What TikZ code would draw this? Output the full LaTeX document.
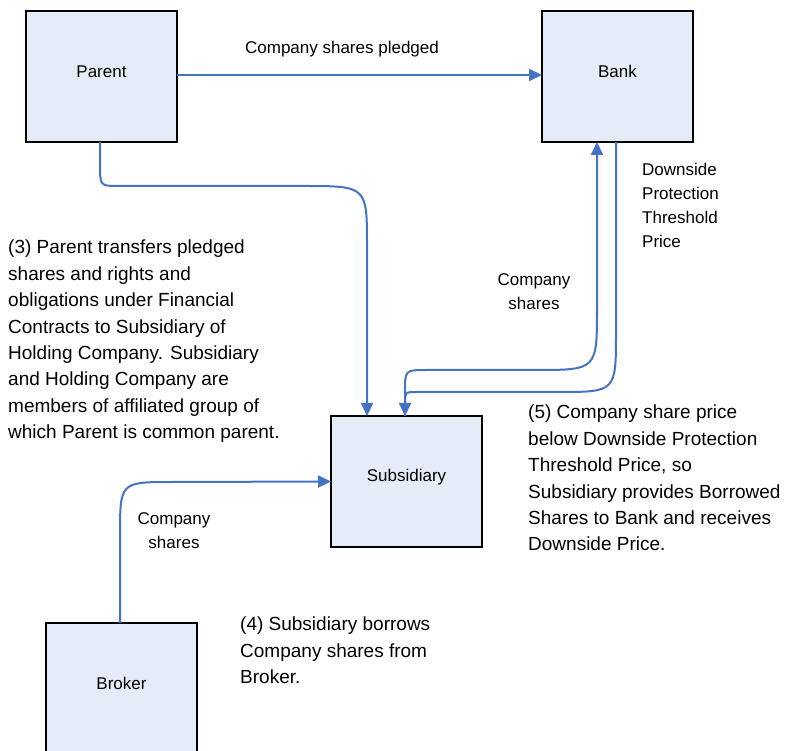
\documentclass[tikz,border=0pt]{standalone}
\usepackage{fontspec}
\setmainfont{Liberation Sans}
\usetikzlibrary{arrows.meta}
\definecolor{conncol}{HTML}{4472C4}
\definecolor{boxfill}{HTML}{E6ECF7}
\begin{document}
\begin{tikzpicture}[x=1pt,y=-1pt,
  box/.style={draw=black, line width=2pt, fill=boxfill, minimum width=151pt, minimum height=131pt, inner sep=0pt, outer sep=0pt},
  lbl/.style={font=\fontsize{17}{24}\selectfont, inner sep=0pt, align=center},
  para/.style={font=\fontsize{19}{26.4}\selectfont, align=left, inner sep=0pt, anchor=north west},
  conn/.style={draw=conncol, line width=2pt},
  tip/.style={-{Triangle[length=13pt,width=12pt]}}
]
\useasboundingbox (0,0) rectangle (785,751);
\clip (0,0) rectangle (785,751);

% boxes
\node[box, label={[lbl, yshift=5pt]center:Parent}] (parent) at (101.5,76.5) {};
\node[box, label={[lbl, yshift=5pt]center:Bank}] (bank) at (617.5,76.5) {};
\node[box, label={[lbl, yshift=4pt]center:Subsidiary}] (subsidiary) at (406.5,481.5) {};
\node[box, label={[lbl, yshift=5pt]center:Broker}] (broker) at (121.5,688.5) {};

% connectors
\draw[conn, tip] ([yshift=1.5pt]parent.east) -- ([yshift=1.5pt]bank.west);
\draw[conn, tip] ([xshift=-1.5pt]parent.south) -- (100,164) .. controls (100,186) .. (119,186)
  -- (303,186) .. controls (367,186) .. (367,246) -- ([xshift=36pt]subsidiary.north west);
\draw[conn, tip] ([xshift=74pt]subsidiary.north west) -- (405,392) .. controls (405,370) .. (427,370)
  -- (535,370) .. controls (597,370) .. (597,308) -- ([xshift=55pt]bank.south west);
\draw[conn, tip] ([xshift=74pt]bank.south west) -- (616,332) .. controls (616,392) .. (558,392)
  -- (417,392) .. controls (405,392) .. (405,404) -- ([xshift=74pt]subsidiary.north west);
\draw[conn, tip] ([xshift=-1.5pt]broker.north) -- (120,536) .. controls (120,482) .. (172,482)
  -- (subsidiary.west);

% connector labels
\node[lbl] (lpledged) at (342,49) {Company shares pledged};
\node[lbl, anchor=north west, align=left] (lthreshold) at (642,163) {Downside\\Protection\\Threshold\\Price};
\node[lbl] (lsharesup) at (534,292) {Company\\shares};
\node[lbl] (lsharesdown) at (174,531) {Company\\shares};

% notes
\node[para] (note3) at (8,240) {(3) Parent transfers pledged\\shares and rights and\\obligations under Financial\\Contracts to Subsidiary of\\Holding Company. Subsidiary\\and Holding Company are\\members of affiliated group of\\which Parent is common parent.};
\node[para] (note5) at (528,405) {(5) Company share price\\below Downside Protection\\Threshold Price, so\\Subsidiary provides Borrowed\\Shares to Bank and receives\\Downside Price.};
\node[para] (note4) at (240,617) {(4) Subsidiary borrows\\Company shares from\\Broker.};
\end{tikzpicture}
\end{document}
